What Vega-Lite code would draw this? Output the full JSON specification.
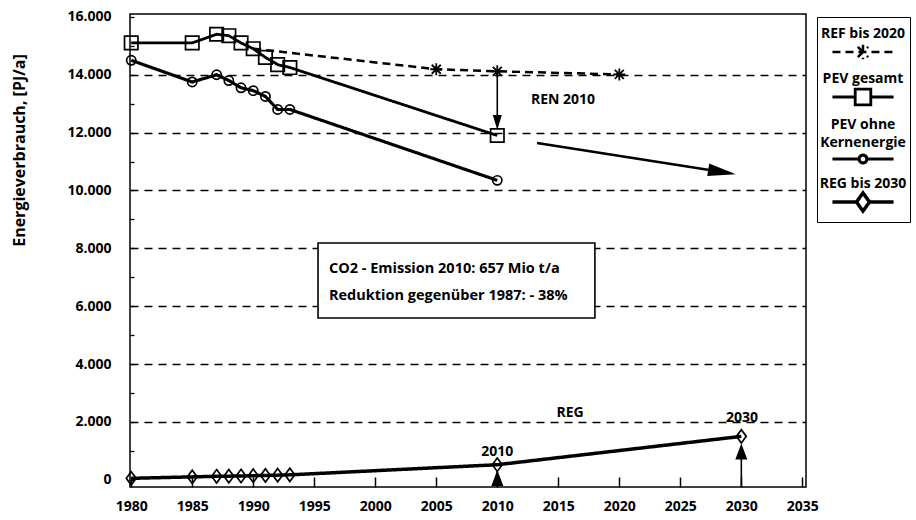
{
  "$schema": "https://vega.github.io/schema/vega-lite/v6.json",
  "width": 676,
  "height": 473,
  "autosize": "none",
  "padding": {"left": 130, "top": 14, "right": 110, "bottom": 33},
  "background": "white",
  "config": {
    "view": {"stroke": "black", "strokeWidth": 1.5},
    "font": "Open Sans",
    "text": {"font": "Open Sans"}
  },
  "datasets": {
    "series": [
      {"series": "REF bis 2020", "year": 1990, "value": 14900},
      {"series": "REF bis 2020", "year": 2005, "value": 14190},
      {"series": "REF bis 2020", "year": 2010, "value": 14120},
      {"series": "REF bis 2020", "year": 2020, "value": 14010},
      {"series": "PEV gesamt", "year": 1980, "value": 15100},
      {"series": "PEV gesamt", "year": 1985, "value": 15100},
      {"series": "PEV gesamt", "year": 1987, "value": 15400},
      {"series": "PEV gesamt", "year": 1988, "value": 15350},
      {"series": "PEV gesamt", "year": 1989, "value": 15100},
      {"series": "PEV gesamt", "year": 1990, "value": 14900},
      {"series": "PEV gesamt", "year": 1991, "value": 14600},
      {"series": "PEV gesamt", "year": 1992, "value": 14350},
      {"series": "PEV gesamt", "year": 1993, "value": 14250},
      {"series": "PEV gesamt", "year": 2010, "value": 11900},
      {"series": "PEV ohne Kernenergie", "year": 1980, "value": 14500},
      {"series": "PEV ohne Kernenergie", "year": 1985, "value": 13750},
      {"series": "PEV ohne Kernenergie", "year": 1987, "value": 14000},
      {"series": "PEV ohne Kernenergie", "year": 1988, "value": 13800},
      {"series": "PEV ohne Kernenergie", "year": 1989, "value": 13550},
      {"series": "PEV ohne Kernenergie", "year": 1990, "value": 13450},
      {"series": "PEV ohne Kernenergie", "year": 1991, "value": 13250},
      {"series": "PEV ohne Kernenergie", "year": 1992, "value": 12800},
      {"series": "PEV ohne Kernenergie", "year": 1993, "value": 12800},
      {"series": "PEV ohne Kernenergie", "year": 2010, "value": 10350},
      {"series": "REG bis 2030", "year": 1980, "value": 50},
      {"series": "REG bis 2030", "year": 1985, "value": 100},
      {"series": "REG bis 2030", "year": 1987, "value": 120},
      {"series": "REG bis 2030", "year": 1988, "value": 125},
      {"series": "REG bis 2030", "year": 1989, "value": 130},
      {"series": "REG bis 2030", "year": 1990, "value": 140},
      {"series": "REG bis 2030", "year": 1991, "value": 150},
      {"series": "REG bis 2030", "year": 1992, "value": 160},
      {"series": "REG bis 2030", "year": 1993, "value": 170},
      {"series": "REG bis 2030", "year": 2010, "value": 520},
      {"series": "REG bis 2030", "year": 2030, "value": 1500}
    ],
    "thinArrows": [
      {"arrow": "REN", "year": 2010, "value": 14120, "year2": 2010, "value2": 12400},
      {"arrow": "REG 2010", "year": 2010, "value": -240, "year2": 2010, "value2": 300},
      {"arrow": "REG 2030", "year": 2030, "value": -240, "year2": 2030, "value2": 1000}
    ],
    "bigArrow": [
      {"arrow": "Trend", "year": 2013.26, "value": 11641, "year2": 2028.3, "value2": 10650}
    ],
    "heads": [
      {"head": "down", "year": 2010, "value": 12350},
      {"head": "up", "year": 2010, "value": 61},
      {"head": "up", "year": 2030, "value": 977},
      {"head": "right", "year": 2028.42, "value": 10639}
    ],
    "labels": [
      {"year": 2015.39, "value": 13127, "text": "REN 2010"},
      {"year": 2015.96, "value": 2308, "text": "REG"},
      {"year": 2010, "value": 960, "text": "2010"},
      {"year": 2030.05, "value": 2140, "text": "2030"}
    ],
    "box": [
      {"year": 1995.31, "value": 8184, "year2": 2018.0, "value2": 5592}
    ],
    "boxText": [
      {"year": 1996.2, "value": 7286, "text": "CO2 - Emission 2010: 657 Mio t/a"},
      {"year": 1996.2, "value": 6352, "text": "Reduktion gegenüber 1987: - 38%"}
    ]
  },
  "encoding": {
    "x": {
      "field": "year",
      "type": "quantitative",
      "scale": {"domain": [1979.9, 2035.3], "nice": false, "zero": false},
      "axis": {
        "values": [1980, 1985, 1990, 1995, 2000, 2005, 2010, 2015, 2020, 2025, 2030, 2035],
        "format": "d",
        "title": null,
        "domain": false,
        "grid": false,
        "tickSize": -10,
        "tickColor": "black",
        "tickWidth": 1.5,
        "labelPadding": 22,
        "labelFont": "Open Sans",
        "labelFontSize": 14,
        "labelFontWeight": "bold",
        "labelColor": "black",
        "labelFlush": false,
        "labelOverlap": false
      }
    },
    "y": {
      "field": "value",
      "type": "quantitative",
      "scale": {"domain": [-250, 16100], "nice": false, "zero": false},
      "axis": {
        "values": [0, 1000, 2000, 3000, 4000, 5000, 6000, 7000, 8000, 9000, 10000, 11000, 12000, 13000, 14000, 15000, 16000],
        "labelExpr": "datum.value % 2000 == 0 ? replace(format(datum.value, ','), ',', '.') : ''",
        "title": "Energieverbrauch, [PJ/a]",
        "titleFont": "Open Sans",
        "titleFontSize": 16,
        "titleFontWeight": "bold",
        "titleColor": "black",
        "titleX": -111,
        "titleY": 136,
        "titleAngle": -90,
        "titleAlign": "center",
        "titleBaseline": "middle",
        "domain": false,
        "grid": true,
        "gridColor": "black",
        "gridDash": [8, 6],
        "gridWidth": 1.3,
        "gridOpacity": {"condition": {"test": "datum.value % 2000 != 0 || datum.value == 0 || datum.value == 16000", "value": 0}, "value": 1},
        "tickSize": -4,
        "tickColor": "black",
        "tickWidth": 1.3,
        "labelPadding": 23,
        "labelFont": "Open Sans",
        "labelFontSize": 14,
        "labelFontWeight": "bold",
        "labelColor": "black",
        "labelOverlap": false
      }
    }
  },
  "layer": [
    {
      "data": {"name": "box"},
      "mark": {"type": "rect", "fill": "white", "stroke": "black", "strokeWidth": 1.6},
      "encoding": {"x2": {"field": "year2"}, "y2": {"field": "value2"}}
    },
    {
      "data": {"name": "boxText"},
      "mark": {"type": "text", "align": "left", "baseline": "middle", "fontSize": 14.5, "fontWeight": "bold", "color": "black"},
      "encoding": {"text": {"field": "text"}}
    },
    {
      "data": {"name": "series"},
      "mark": {"type": "line", "color": "black"},
      "encoding": {
        "strokeDash": {
          "field": "series",
          "type": "nominal",
          "scale": {
            "domain": ["REF bis 2020", "PEV gesamt", "PEV ohne Kernenergie", "REG bis 2030"],
            "range": [[8, 5], [1, 0], [1, 0], [1, 0]]
          },
          "legend": {
            "title": null,
            "orient": "none",
            "legendX": 687,
            "legendY": 3,
            "strokeColor": "black",
            "padding": 3,
            "rowPadding": 0,
            "symbolSize": 169,
            "symbolStrokeWidth": 2.5,
            "symbolStrokeColor": "black",
            "labelFont": "Open Sans",
            "labelFontSize": 14,
            "labelFontWeight": "bold",
            "labelColor": "black",
            "labelLimit": 200,
            "labelExpr": "datum.label == 'PEV ohne Kernenergie' ? ['PEV ohne', 'Kernenergie'] : datum.label",
            "encode": {
              "symbols": {
                "update": {
                  "shape": {"signal": "datum.value == 'REF bis 2020' ? 'M-4.7,0L4.7,0M0,-1.1L0,1.1M-0.8,-0.8L0.8,0.8M-0.8,0.8L0.8,-0.8' : datum.value == 'PEV gesamt' ? 'M-4.7,0L-1.2,0M1.2,0L4.7,0M-1.2,-1.2L1.2,-1.2L1.2,1.2L-1.2,1.2Z' : datum.value == 'PEV ohne Kernenergie' ? 'M-4.7,0L-0.6,0M0.6,0L4.7,0M0.6,0A0.6,0.6 0 1,1 -0.6,0A0.6,0.6 0 1,1 0.6,0Z' : 'M-4.7,0L-1,0M1,0L4.7,0M0,-1.4L1,0L0,1.4L-1,0Z'"},
                  "x": {"value": 43},
                  "y": {"signal": "datum.value == 'PEV ohne Kernenergie' ? 48 : 32"},
                  "fill": {"value": "transparent"},
                  "stroke": {"value": "black"}
                }
              },
              "labels": {
                "update": {
                  "x": {"value": 43},
                  "y": {"value": 7},
                  "align": {"value": "center"},
                  "baseline": {"value": "top"},
                  "lineHeight": {"value": 18}
                }
              }
            }
          }
        },
        "strokeWidth": {
          "field": "series",
          "type": "nominal",
          "scale": {
            "domain": ["REF bis 2020", "PEV gesamt", "PEV ohne Kernenergie", "REG bis 2030"],
            "range": [2.5, 3.5, 3, 3.5]
          },
          "legend": null
        }
      }
    },
    {
      "data": {"name": "series"},
      "transform": [{"filter": "datum.series == 'REF bis 2020' && datum.year > 1990"}],
      "mark": {"type": "point", "filled": false, "stroke": "black", "strokeWidth": 1.8, "opacity": 1, "shape": "M-1,0L1,0M0,-1L0,1M-0.75,-0.75L0.75,0.75M-0.75,0.75L0.75,-0.75", "size": 144},
      "encoding": {}
    },
    {
      "data": {"name": "series"},
      "transform": [{"filter": "datum.series == 'PEV gesamt'"}],
      "mark": {"type": "point", "filled": false, "stroke": "black", "strokeWidth": 1.7, "opacity": 1, "shape": "square", "size": 180},
      "encoding": {}
    },
    {
      "data": {"name": "series"},
      "transform": [{"filter": "datum.series == 'PEV ohne Kernenergie'"}],
      "mark": {"type": "point", "filled": false, "stroke": "black", "strokeWidth": 1.7, "opacity": 1, "shape": "circle", "size": 85},
      "encoding": {}
    },
    {
      "data": {"name": "series"},
      "transform": [{"filter": "datum.series == 'REG bis 2030'"}],
      "mark": {"type": "point", "filled": false, "stroke": "black", "strokeWidth": 1.7, "opacity": 1, "shape": "M0,-1.15L0.85,0L0,1.15L-0.85,0Z", "size": 135},
      "encoding": {}
    },
    {
      "data": {"name": "thinArrows"},
      "mark": {"type": "rule", "color": "black", "strokeWidth": 1.6},
      "encoding": {"x2": {"field": "year2"}, "y2": {"field": "value2"}}
    },
    {
      "data": {"name": "bigArrow"},
      "mark": {"type": "rule", "color": "black", "strokeWidth": 2.6},
      "encoding": {"x2": {"field": "year2"}, "y2": {"field": "value2"}}
    },
    {
      "data": {"name": "heads"},
      "transform": [{"filter": "datum.head == 'down'"}],
      "mark": {"type": "point", "filled": true, "color": "black", "opacity": 1, "shape": "M-0.6,-1L0.6,-1L0,1Z", "size": 225},
      "encoding": {}
    },
    {
      "data": {"name": "heads"},
      "transform": [{"filter": "datum.head == 'up'"}],
      "mark": {"type": "point", "filled": true, "color": "black", "opacity": 1, "shape": "M0,-1L0.75,1L-0.75,1Z", "size": 256},
      "encoding": {}
    },
    {
      "data": {"name": "heads"},
      "transform": [{"filter": "datum.head == 'right'"}],
      "mark": {"type": "point", "filled": true, "color": "black", "opacity": 1, "shape": "M1,0L-1,-0.45L-1,0.45Z", "size": 784, "angle": 9},
      "encoding": {}
    },
    {
      "data": {"name": "labels"},
      "mark": {"type": "text", "align": "center", "baseline": "middle", "fontSize": 14, "fontWeight": "bold", "color": "black"},
      "encoding": {"text": {"field": "text"}}
    }
  ]
}
